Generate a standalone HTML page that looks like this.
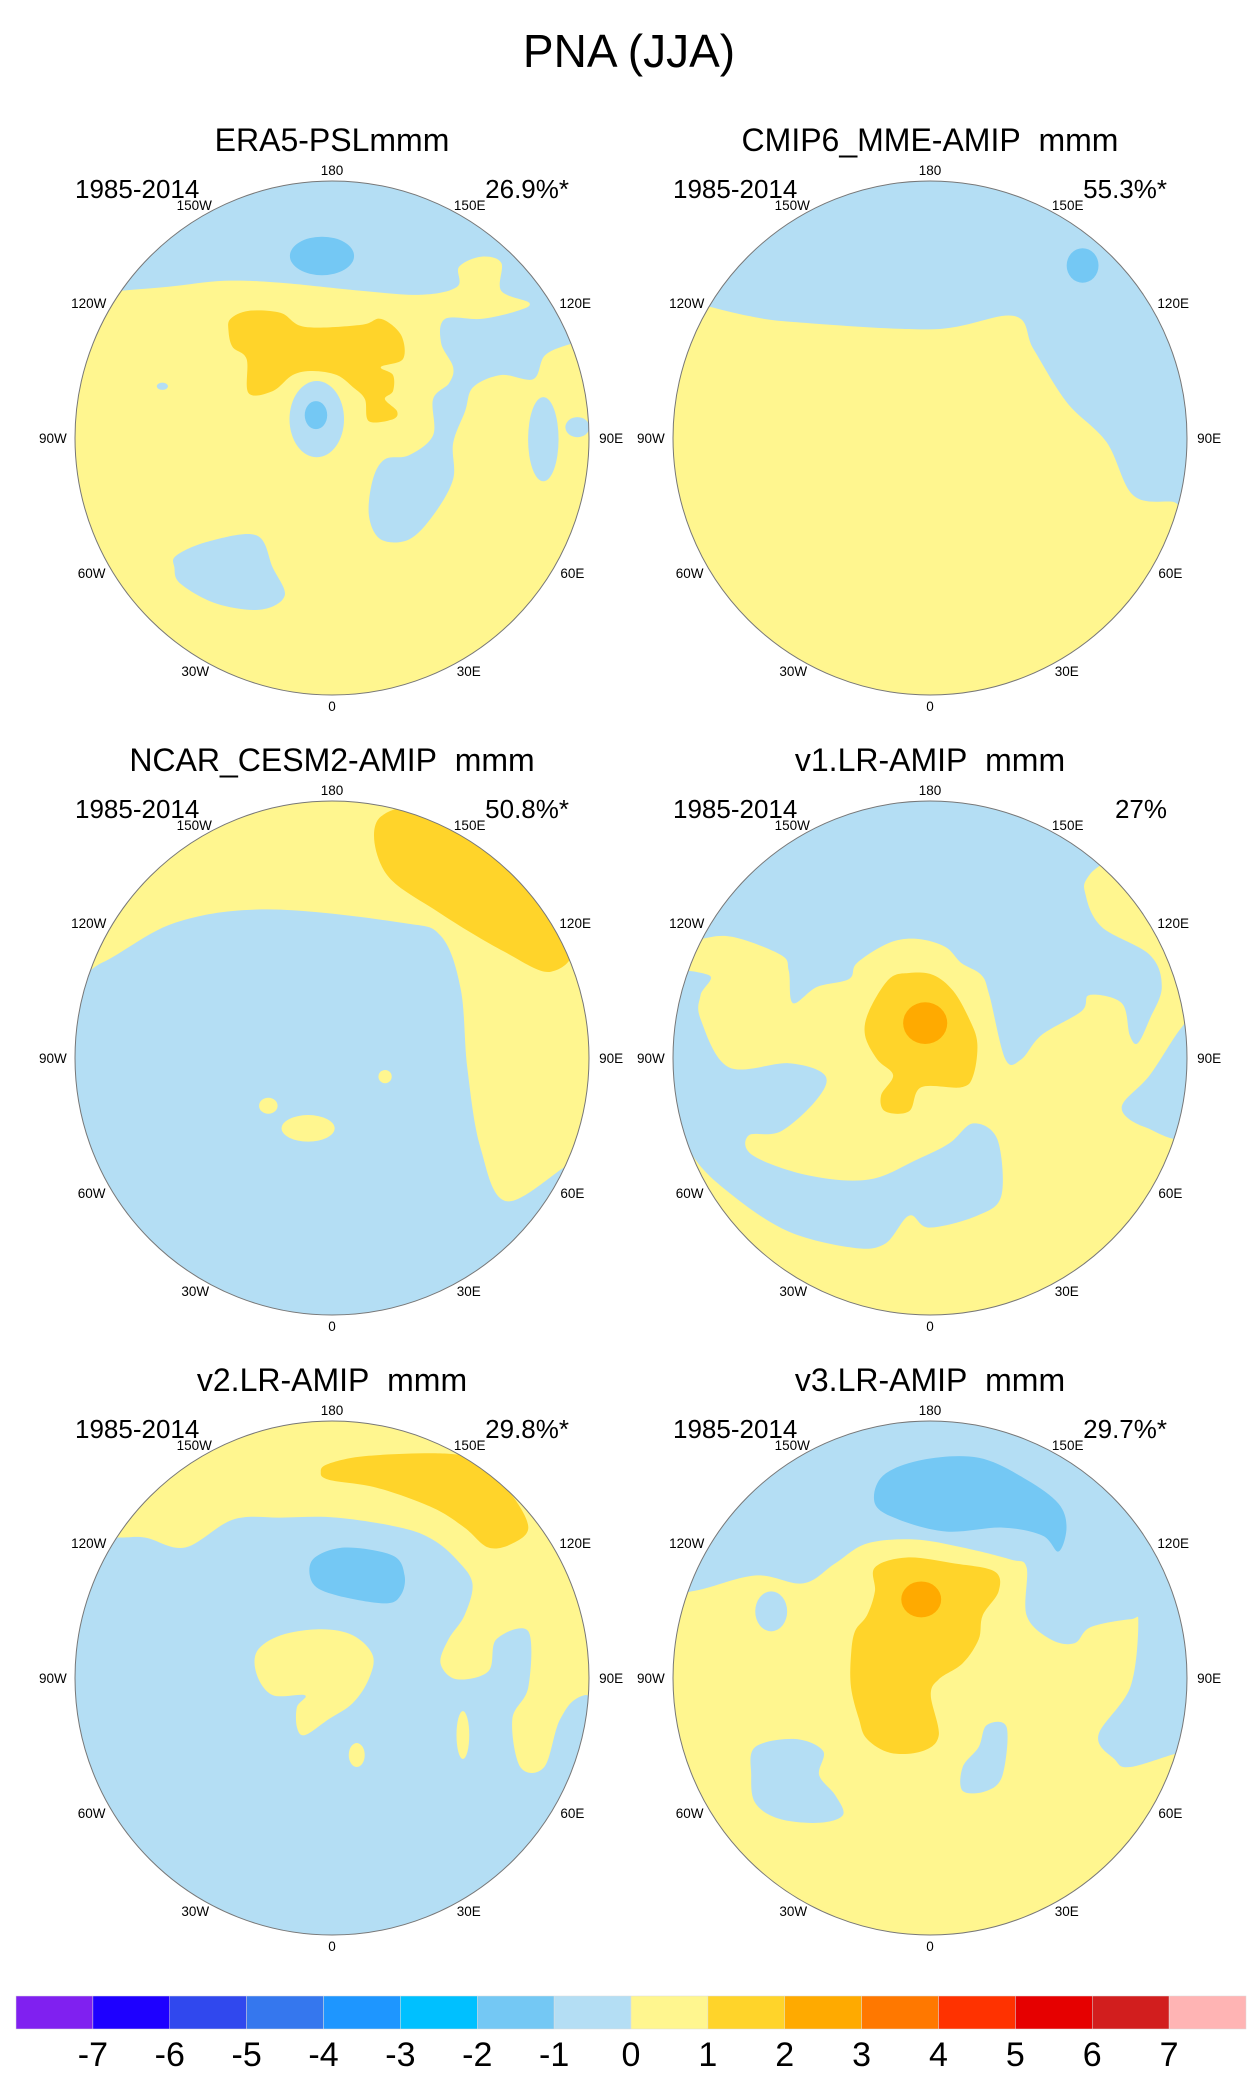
<!DOCTYPE html>
<html><head><meta charset="utf-8"><style>
body{margin:0;background:#fff;}
svg text{font-family:"Liberation Sans",sans-serif;white-space:pre;}
</style></head><body>
<svg id="fig" width="1258" height="2091" viewBox="0 0 1258 2091" xmlns="http://www.w3.org/2000/svg">
<text x="629" y="67" font-size="46" text-anchor="middle">PNA (JJA)</text>
</svg>
<script>
const cbLevels=[-7,-6,-5,-4,-3,-2,-1,0,1,2,3,4,5,6,7];
const cbColors=["#8020f0","#1e00ff","#3048ee","#3577ee","#1e96ff","#00c0ff","#74c8f4","#b4def4","#fff68f","#ffd42a","#ffaa00","#ff7800","#ff3200","#e60000","#d21e1e","#ffb4b4"];
const panelTitles=["ERA5-PSLmmm","CMIP6_MME-AMIP\u00a0\u00a0mmm","NCAR_CESM2-AMIP\u00a0\u00a0mmm","v1.LR-AMIP\u00a0\u00a0mmm","v2.LR-AMIP\u00a0\u00a0mmm","v3.LR-AMIP\u00a0\u00a0mmm"];
const panelPercents=["26.9%*","55.3%*","50.8%*","27%","29.8%*","29.7%*"];
const lonLabels=["0","30E","60E","90E","120E","150E","180","150W","120W","90W","60W","30W"];
const lonValues=[0,30,60,90,120,150,180,-150,-120,-90,-60,-30];
const Y="#fff68f",B="#b4def4",DB="#74c8f4",O="#ffd42a",DO="#ffaa00";
const panelBg=[Y,Y,B,Y,B,Y];
const fr1={ox:828,oy:857,kx:0.401,ky:0.401},fr4={ox:752,oy:857,kx:0.401,ky:0.401};
const frD={ox:0,oy:0,kx:1.327,ky:1.327};
const fr5={ox:414,oy:857,kx:0.798,ky:0.399},fr6={ox:1159,oy:857,kx:0.798,ky:0.399};
const panelShapes=[
 {fr:fr1,s:[
  {f:B,p:[[200,500],[300,490],[420,480],[560,465],[700,470],[900,490],[1050,500],[1140,480],[1145,430],[1200,405],[1250,420],[1250,490],[1320,520],[1290,540],[1200,560],[1110,560],[1100,620],[1130,680],[1120,720],[1080,760],[1080,850],[1020,900],[960,910],[930,960],[920,1050],[950,1110],[1020,1110],[1080,1050],[1130,960],[1130,870],[1160,790],[1180,730],[1250,700],[1330,710],[1360,650],[1430,620],[1500,600],[1500,100],[200,100]]},
  {f:B,e:[1355,860,38,105]},{f:B,e:[1440,830,30,25]},
  {f:DB,e:[803,403,80,48]},
  {f:O,p:[[575,560],[620,540],[700,545],[760,580],[900,575],[950,560],[1000,600],[1005,660],[950,680],[980,700],[980,740],[960,760],[990,790],[980,810],[920,815],[910,760],[880,730],[840,700],[780,690],[730,700],[680,740],[620,745],[615,660],[580,630],[570,590]]},
  {f:B,e:[790,810,68,95]},{f:DB,e:[788,800,28,35]},
  {f:B,p:[[440,1150],[520,1115],[640,1100],[680,1180],[710,1250],[650,1285],[540,1270],[450,1220],[435,1180]]},
  {f:B,e:[405,728,14,9]}]},
 {fr:frD,s:[
  {f:B,p:[[-210,-105],[-192,-105],[-137,-92],[-97,-87],[3,-82],[63,-92],[78,-67],[103,-27],[133,3],[153,43],[183,48],[210,48],[210,-210],[-210,-210]]},
  {f:DB,e:[115,-130,12,13]}]},
 {fr:frD,s:[
  {f:Y,p:[[-210,-60],[-173,-72],[-118,-102],[-48,-112],[52,-102],[82,-92],[97,-52],[102,8],[112,68],[132,108],[182,78],[210,70],[210,-210],[-210,-210]]},
  {f:O,p:[[35,-180],[80,-190],[130,-160],[180,-90],[165,-65],[130,-80],[80,-110],[40,-140]]},
  {f:Y,e:[-18,53,20,10]},{f:Y,e:[-48,36,7,6]},{f:Y,e:[40,14,5,5]}]},
 {fr:fr4,s:[
  {f:B,p:[[100,580],[180,560],[260,555],[380,600],[400,640],[410,720],[470,680],[550,660],[570,620],[650,570],[720,560],[790,580],[830,620],[880,650],[900,700],[940,860],[980,860],[1030,800],[1130,740],[1150,700],[1230,720],[1250,800],[1270,820],[1300,760],[1330,680],[1300,600],[1180,530],[1140,450],[1150,400],[1250,300],[1250,100],[100,100]]},
  {f:B,p:[[1230,980],[1290,1030],[1400,1040],[1420,760],[1380,780],[1300,900]]},
  {f:B,p:[[60,650],[200,650],[180,700],[180,760],[250,880],[400,870],[490,900],[470,960],[380,1040],[300,1050],[310,1100],[450,1150],[600,1160],[720,1110],[800,1070],[860,1020],[920,1060],[930,1200],[870,1250],[750,1280],[700,1250],[640,1320],[560,1330],[400,1290],[260,1200],[160,1100],[100,950],[60,800]]},
  {f:O,p:[[600,740],[650,660],[700,645],[760,650],[810,690],[850,760],[870,820],[860,900],[830,930],[730,930],[700,990],[640,990],[630,950],[660,900],[620,860],[590,800]]},
  {f:DO,e:[740,770,55,52]}]},
 {fr:fr5,s:[
  {f:Y,p:[[60,505],[145,505],[180,505],[230,530],[290,460],[350,455],[420,455],[500,480],[540,510],[570,560],[590,620],[580,700],[560,760],[550,820],[570,860],[610,840],[620,760],[660,740],[660,880],[640,960],[650,1080],[680,1080],[700,960],[730,900],[800,900],[800,100],[60,100]]},
  {f:O,p:[[410,320],[460,300],[560,295],[600,320],[640,400],[660,480],[640,520],[610,530],[580,480],[540,430],[470,380],[410,360],[400,340]]},
  {f:DB,p:[[390,560],[430,530],[490,550],[505,600],[500,650],[480,670],[420,650],[390,620]]},
  {f:Y,p:[[320,790],[350,750],[400,735],[440,750],[465,800],[460,860],[440,920],[410,960],[380,1000],[370,980],[370,930],[380,900],[340,900],[320,850]]},
  {f:Y,e:[445,1050,10,30]},{f:Y,e:[578,1000,8,60]}]},
 {fr:fr6,s:[
  {f:B,p:[[800,640],[860,640],[940,600],[1000,620],[1040,570],[1080,520],[1140,510],[1200,530],[1260,560],[1280,580],[1280,700],[1310,760],[1340,770],[1360,730],[1410,710],[1420,720],[1410,880],[1370,1000],[1390,1060],[1410,1080],[1480,1040],[1520,1040],[1520,100],[800,100]]},
  {f:B,e:[960,690,20,50]},
  {f:DB,p:[[1100,350],[1150,310],[1220,305],[1280,360],[1320,420],[1330,480],[1320,540],[1300,500],[1250,480],[1180,490],[1120,460],[1090,420]]},
  {f:O,p:[[1090,580],[1130,555],[1190,570],[1240,590],[1245,640],[1225,700],[1220,760],[1200,820],[1170,860],[1160,900],[1170,1000],[1150,1040],[1110,1045],[1080,1010],[1070,960],[1060,880],[1060,800],[1065,740],[1080,700],[1090,640]]},
  {f:DO,e:[1148,660,25,45]},
  {f:B,p:[[940,1030],[990,1010],[1025,1040],[1020,1100],[1040,1150],[1050,1200],[1020,1220],[970,1210],[940,1170],[935,1100]]},
  {f:B,p:[[1230,975],[1255,980],[1250,1100],[1230,1140],[1200,1140],[1200,1080],[1220,1030]]}]}
];
const centersX=[332,930,332,930,332,930],centersY=[438,438,1058,1058,1678,1678];
const R=257,NS="http://www.w3.org/2000/svg",svg=document.getElementById('fig');
function mk(t,a,p){const e=document.createElementNS(NS,t);for(const k in a)e.setAttribute(k,a[k]);(p||svg).appendChild(e);return e;}
function smooth(pts){const n=pts.length;let d="M"+pts[0][0].toFixed(1)+","+pts[0][1].toFixed(1);
 for(let i=0;i<n;i++){const p0=pts[(i-1+n)%n],p1=pts[i],p2=pts[(i+1)%n],p3=pts[(i+2)%n];
  const c1=[p1[0]+(p2[0]-p0[0])/6,p1[1]+(p2[1]-p0[1])/6],c2=[p2[0]-(p3[0]-p1[0])/6,p2[1]-(p3[1]-p1[1])/6];
  d+="C"+c1[0].toFixed(1)+","+c1[1].toFixed(1)+" "+c2[0].toFixed(1)+","+c2[1].toFixed(1)+" "+p2[0].toFixed(1)+","+p2[1].toFixed(1);}
 return d+"Z";}
const defs=mk('defs',{});
for(let i=0;i<6;i++){
 const cx=centersX[i],cy=centersY[i];
 const cp=mk('clipPath',{id:'clip'+i},defs);mk('circle',{cx:cx,cy:cy,r:R},cp);
 const g=mk('g',{'clip-path':'url(#clip'+i+')'});
 
 
 mk('circle',{cx:cx,cy:cy,r:R,fill:panelBg[i]},g);
 const P=panelShapes[i],fr=P.fr;
 const tx=(x)=>cx+(x-fr.ox)*fr.kx,ty=(y)=>cy+(y-fr.oy)*fr.ky;
 P.s.forEach(s=>{
  let el;
  if(s.e){el=mk('ellipse',{cx:tx(s.e[0]),cy:ty(s.e[1]),rx:s.e[2]*fr.kx,ry:s.e[3]*fr.ky,fill:s.f},g);}
  else{el=mk('path',{d:smooth(s.p.map(q=>[tx(q[0]),ty(q[1])])),fill:s.f},g);}
  
  
 });
 const border=mk('circle',{cx:cx,cy:cy,r:R,fill:'none',stroke:'#777','stroke-width':1});
 
 
 const t=mk('text',{x:cx,y:cy-287,'font-size':32,'text-anchor':'middle'});t.textContent=panelTitles[i];
 
 
 const l=mk('text',{x:cx-257,y:cy-240,'font-size':26});l.textContent="1985-2014";
 
 
 const r=mk('text',{x:cx+237,y:cy-240,'font-size':26,'text-anchor':'end'});r.textContent=panelPercents[i];
 
 
 lonValues.forEach((v,j)=>{const a=v*Math.PI/180,s=Math.sin(a),c=Math.cos(a);
  const hw=lonLabels[j].length*3.7;
  const lt=mk('text',{x:cx+(268+hw*Math.abs(s))*s,y:cy+(268+2*Math.abs(s))*c+5,'font-size':13.5,'text-anchor':'middle'});lt.textContent=lonLabels[j];
  
  });
}
const cbX0=16,cbX1=1246,cbY=1996,cbH=33,w=(cbX1-cbX0)/cbColors.length;
cbColors.forEach((c,i)=>{const b=mk('rect',{x:cbX0+i*w,y:cbY,width:w,height:cbH,fill:c,stroke:'#ddd','stroke-width':0.5});
 
 });
cbLevels.forEach((v,i)=>{const t=mk('text',{x:cbX0+(i+1)*w,y:2066,'font-size':34,'text-anchor':'middle'});t.textContent=String(v);
 
 });
</script>
</body></html>
